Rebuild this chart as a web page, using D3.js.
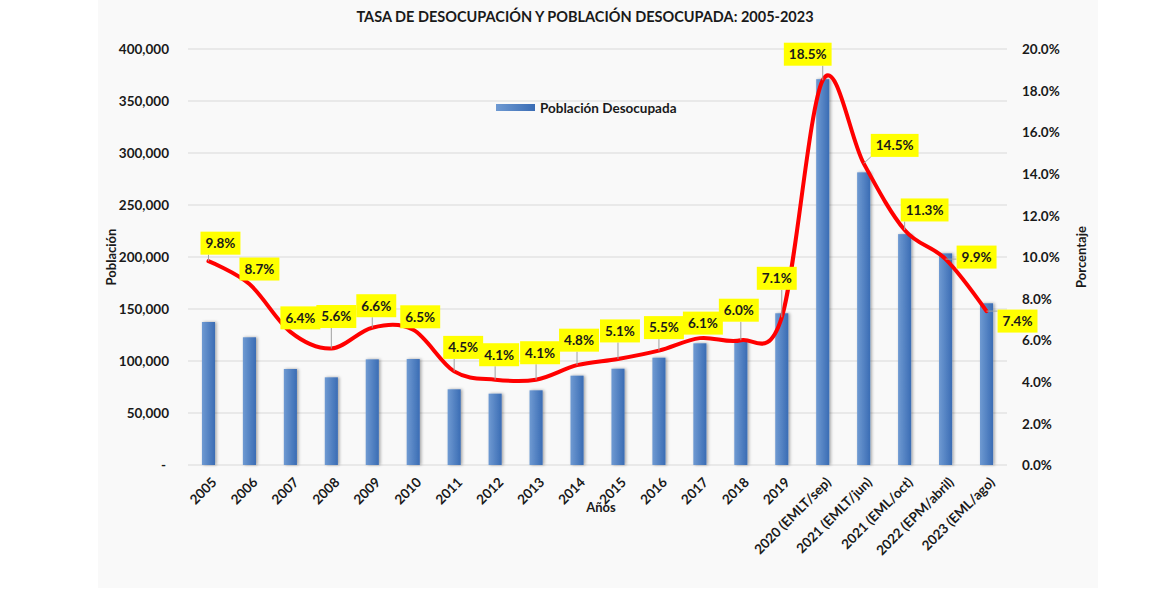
<!DOCTYPE html>
<html>
<head>
<meta charset="utf-8">
<script src="https://cdn.jsdelivr.net/npm/d3@7"></script>
<style>
  body { margin: 0; background: #ffffff; }
  svg text { font-family: Lato, "Open Sans", sans-serif; font-weight: bold; fill: #1a1a1a; }
</style>
</head>
<body>
<svg id="chart"></svg>
<script>
// --- data ---
const categories = ["2005", "2006", "2007", "2008", "2009", "2010", "2011", "2012", "2013", "2014",
  "2015", "2016", "2017", "2018", "2019", "2020 (EMLT/sep)", "2021 (EMLT/jun)", "2021 (EML/oct)",
  "2022 (EPM/abril)", "2023 (EML/ago)"];
const poblacion = [137500, 122800, 92300, 84300, 101600, 101900, 72800, 68600, 71800, 85900,
  92600, 103200, 117000, 119200, 145900, 371000, 281400, 222000, 203500, 155500];
const tasa = [9.8, 8.7, 6.4, 5.6, 6.6, 6.5, 4.5, 4.1, 4.1, 4.8,
  5.1, 5.5, 6.1, 6.0, 7.1, 18.5, 14.5, 11.3, 9.9, 7.4];
const leftTicks = [0, 50000, 100000, 150000, 200000, 250000, 300000, 350000, 400000];
const rightTicks = [0, 2, 4, 6, 8, 10, 12, 14, 16, 18, 20];

// label placement nudges (px, relative to the point)
const labelDx = [12, 10, 10, 5, 4, 7, 9, 4, 4, 2, 2, 5, 3, -2, -5, -15, 31, 20, 31, 31];
const labelDy = [-18, -15, -14, -32, -22, -13, -24, -25, -27, -25, -28, -23, -15, -30, -39, -26, -18, -20, -2, 10];

const W = 1170, H = 593;
const margin = { top: 49, right: 163, bottom: 128, left: 188 };
const width = W - margin.left - margin.right;
const height = H - margin.top - margin.bottom;

const root = d3.select("#chart").attr("width", W).attr("height", H);

// panel background
root.append("rect").attr("x", 98).attr("y", 0).attr("width", 1000).attr("height", 588)
  .attr("fill", "#f9f9f9");

const defs = root.append("defs");
const grad = defs.append("linearGradient").attr("id", "barGrad")
  .attr("x1", "0").attr("x2", "1").attr("y1", "0").attr("y2", "0");
grad.append("stop").attr("offset", "0%").attr("stop-color", "#6f9ad2");
grad.append("stop").attr("offset", "100%").attr("stop-color", "#3a6cb4");
const shadow = defs.append("filter").attr("id", "barShadow")
  .attr("x", "-50%").attr("y", "-5%").attr("width", "200%").attr("height", "110%");
shadow.append("feDropShadow").attr("dx", 1.5).attr("dy", 0).attr("stdDeviation", 1.8)
  .attr("flood-color", "#000").attr("flood-opacity", 0.35);

const svg = root.append("g").attr("transform", `translate(${margin.left},${margin.top})`);

// --- scales ---
const x = d3.scaleBand().domain(categories).range([0, width]).paddingInner(0.68).paddingOuter(0.34);
const yLeft = d3.scaleLinear().domain([0, 400000]).range([height, 0]);
const yRight = d3.scaleLinear().domain([0, 20]).range([height, 0]);

// --- gridlines ---
svg.append("g").selectAll("line").data(leftTicks).enter().append("line")
  .attr("x1", 0).attr("x2", width)
  .attr("y1", d => yLeft(d)).attr("y2", d => yLeft(d))
  .attr("stroke", "#d9d9d9").attr("stroke-width", 1);

// --- left axis ---
const leftAxis = svg.append("g")
  .attr("transform", "translate(-16,0)")
  .call(d3.axisLeft(yLeft).tickValues(leftTicks).tickSize(0)
    .tickFormat(d => d === 0 ? "-" : d3.format(",")(d)));
leftAxis.select(".domain").remove();
leftAxis.selectAll("text").style("font-size", "13.5px").attr("dy", "0.35em");
leftAxis.selectAll(".tick").filter(d => d === 0).select("text").attr("x", -6);

// --- right axis ---
const rightAxis = svg.append("g")
  .attr("transform", `translate(${width + 12},0)`)
  .call(d3.axisRight(yRight).tickValues(rightTicks).tickSize(0).tickFormat(d => d.toFixed(1) + "%"));
rightAxis.select(".domain").remove();
rightAxis.selectAll("text").style("font-size", "13.5px").attr("dy", "0.35em");

// --- bars ---
svg.append("g").selectAll("rect").data(poblacion).enter().append("rect")
  .attr("x", (d, i) => x(categories[i]))
  .attr("y", d => yLeft(d))
  .attr("width", x.bandwidth())
  .attr("height", d => height - yLeft(d))
  .attr("fill", "url(#barGrad)")
  .attr("filter", "url(#barShadow)");

// --- x axis ---
const xAxis = svg.append("g")
  .attr("transform", `translate(0,${height})`)
  .call(d3.axisBottom(x).tickSize(0));
xAxis.select(".domain").remove();
xAxis.selectAll("text")
  .style("font-size", "13.5px")
  .style("text-anchor", "end")
  .attr("dy", "0")
  .attr("transform", "translate(7,16) rotate(-45)");

// --- line ---
const cx = i => x(categories[i]) + x.bandwidth() / 2;
const line = d3.line()
  .x((d, i) => cx(i))
  .y(d => yRight(d))
  .curve(d3.curveCatmullRom.alpha(0));
svg.append("path").datum(tasa)
  .attr("d", line)
  .attr("fill", "none")
  .attr("stroke", "#ff0000")
  .attr("stroke-width", 4)
  .attr("stroke-linecap", "round");

// --- data labels ---
const labels = svg.append("g");
tasa.forEach((v, i) => {
  const px = cx(i), py = yRight(v);
  const lx = px + labelDx[i], ly = py + labelDy[i];
  const g = labels.append("g");
  const t = g.append("text")
    .attr("x", lx).attr("y", ly).attr("dy", "0.36em")
    .attr("text-anchor", "middle")
    .style("font-size", "13.5px")
    .text(v.toFixed(1) + "%");
  const w = t.node().getComputedTextLength() + 10;
  const h = 23;
  const bx = lx - w / 2, by = ly - h / 2;
  // leader line from the point to the nearest edge of the box
  const ex = Math.max(bx, Math.min(px, bx + w));
  const ey = Math.max(by, Math.min(py, by + h));
  if (Math.hypot(ex - px, ey - py) > 5) {
    labels.insert("line", ":first-child")
      .attr("x1", px).attr("y1", py).attr("x2", ex).attr("y2", ey)
      .attr("stroke", "#a0a0a0").attr("stroke-width", 1);
  }
  g.insert("rect", "text")
    .attr("x", bx).attr("y", by).attr("width", w).attr("height", h)
    .attr("fill", "#ffff00");
});

// --- titles ---
root.append("text").attr("x", 585).attr("y", 22).attr("text-anchor", "middle")
  .style("font-size", "14.5px")
  .text("TASA DE DESOCUPACIÓN Y POBLACIÓN DESOCUPADA: 2005-2023");

root.append("text")
  .attr("transform", "translate(116,257) rotate(-90)")
  .attr("text-anchor", "middle").style("font-size", "13px")
  .text("Población");

root.append("text")
  .attr("transform", "translate(1086,257) rotate(-90)")
  .attr("text-anchor", "middle").style("font-size", "13px")
  .text("Porcentaje");

root.append("text").attr("x", 601).attr("y", 512).attr("text-anchor", "middle")
  .style("font-size", "13px").text("Años");

// --- legend ---
const legend = root.append("g").attr("transform", "translate(496,104)");
legend.append("rect").attr("width", 39).attr("height", 7).attr("fill", "url(#barGrad)");
legend.append("text").attr("x", 44).attr("y", 4).attr("dy", "0.35em")
  .style("font-size", "13.5px").text("Población Desocupada");
</script>
</body>
</html>
